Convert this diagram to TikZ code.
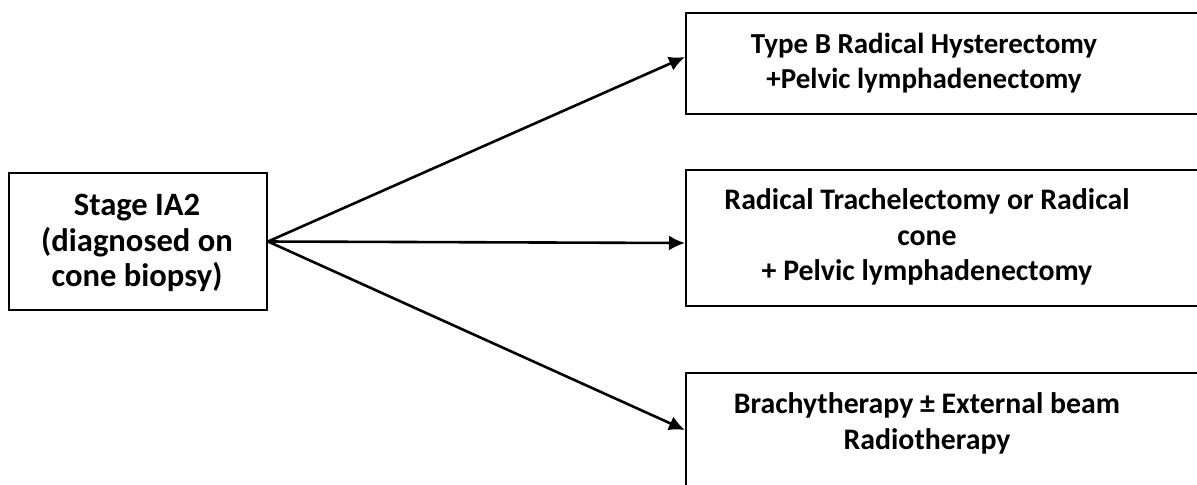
\documentclass[tikz,border=0pt]{standalone}
\usepackage{fontspec}
\setmainfont{Carlito}
\usetikzlibrary{arrows.meta}
\begin{document}
\begin{tikzpicture}[x=0.5pt,y=-0.5pt,
  box/.style={draw, line width=1pt, rectangle, inner sep=0pt, anchor=north west},
  lbl/.style={font=\bfseries\fontsize{14.5}{17.7}\selectfont, align=center, inner sep=0pt},
  midlbl/.style={lbl, font=\bfseries\fontsize{14.9}{17.9}\selectfont},
  biglbl/.style={lbl, font=\bfseries\fontsize{16.3}{17.8}\selectfont},
  arr/.style={line width=1.3pt, -{Latex[length=8pt,width=7.5pt]}}]
\useasboundingbox (0,0) rectangle (1197,484);
\node[box, minimum width=129pt, minimum height=68.5pt] (b0) at (8,172) {};
\node[box, minimum width=265pt, minimum height=50.5pt] (b1) at (685,12) {};
\node[box, minimum width=265pt, minimum height=68pt] (b2) at (685,169) {};
\node[box, minimum width=265pt, minimum height=74pt] (b3) at (685,372) {};
\node[biglbl] (t0) at (137,243) {Stage IA2\\(diagnosed on\\cone biopsy)};
\node[lbl] (t1) at (924,63) {Type B Radical Hysterectomy\\+Pelvic lymphadenectomy};
\node[midlbl] (t2) at (927,237) {Radical Trachelectomy or Radical\\cone\\+ Pelvic lymphadenectomy};
\node[midlbl] (t3) at (927,423.5) {Brachytherapy ± External beam\\Radiotherapy};
\draw[arr] (b0.east) -- ([yshift=-22.5pt]b1.north west);
\draw[arr] (b0.east) -- ([yshift=-37pt]b2.north west);
\draw[arr] (b0.east) -- ([yshift=-29pt]b3.north west);
\end{tikzpicture}
\end{document}
